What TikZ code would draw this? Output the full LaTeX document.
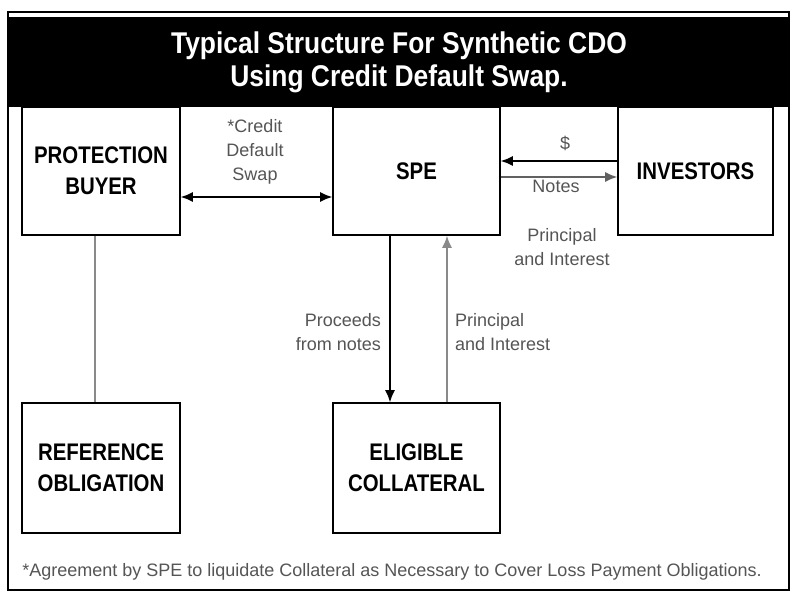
\documentclass[tikz,border=0pt]{standalone}
\usepackage{fontspec}
\setmainfont{Liberation Sans}
\newfontfamily\boxfont{Liberation Sans Bold}[FakeStretch=0.85]
\newfontfamily\titlefont{Liberation Sans Bold}[FakeStretch=0.88]
\newfontfamily\labfont{Liberation Sans}
\newfontfamily\notefont{Liberation Sans}
\usetikzlibrary{arrows.meta}
\definecolor{labgray}{HTML}{555555}
\definecolor{linegray}{HTML}{8A8A8A}
\tikzset{
  entity/.style={draw=black, line width=1.6pt, fill=white, align=center, inner sep=0pt,
    font=\boxfont\fontsize{24}{31}\selectfont},
  lab/.style={text=labgray, align=center, inner sep=0pt, font=\labfont\fontsize{18}{24}\selectfont},
  flow/.style={line width=1.4pt, -{Latex[length=12pt,width=10pt]}},
  flow2/.style={line width=1.4pt, {Latex[length=12pt,width=10pt]}-{Latex[length=12pt,width=10pt]}},
}
\begin{document}
\begin{tikzpicture}[x=1pt,y=-1pt]
\useasboundingbox (0,0) rectangle (800,601);
\fill[white] (0,0) rectangle (800,601);
% frame
\draw[line width=1.6pt] (8,12) rectangle (789,590);
% boxes
\node[entity, minimum width=158pt, minimum height=128pt] (buyer) at (101,171) {PROTECTION\\BUYER};
\node[entity, minimum width=167pt, minimum height=128pt] (spe) at (416.5,171) {SPE};
\node[entity, minimum width=155pt, minimum height=128pt] (inv) at (695.5,171) {INVESTORS};
\node[entity, minimum width=158pt, minimum height=130pt] (ref) at (101,468) {REFERENCE\\OBLIGATION};
\node[entity, minimum width=167pt, minimum height=130pt] (coll) at (416.5,468) {ELIGIBLE\\COLLATERAL};
% title band over box tops
\fill[black] (8,17) rectangle (789,107);
\node[text=white, align=center, inner sep=0pt, font=\titlefont\fontsize{30}{33}\selectfont] (title) at (399,62) {Typical Structure For Synthetic CDO\\Using Credit Default Swap.};
% connectors
\draw[flow2] (buyer.east |- 0,197) -- (spe.west |- 0,197);
\draw[linegray, line width=2pt] (buyer.south -| 95,0) -- (ref.north -| 95,0);
\draw[flow] (inv.west |- 0,161) -- (spe.east |- 0,161);
\draw[flow, draw=linegray!70!black] (spe.east |- 0,177) -- (inv.west |- 0,177);
\draw[flow] (spe.south -| 390,0) -- (coll.north -| 390,0);
\draw[flow, draw=linegray] (coll.north -| 447,0) -- (spe.south -| 447,0);
% labels
\node[lab] (cds) at (255,152) {*Credit\\Default\\Swap};
\node[lab] (dollar) at (565,143) {\$};
\node[lab] (notes) at (556,186) {Notes};
\node[lab] (pi1) at (562,247) {Principal\\and Interest};
\node[lab, align=right, anchor=east] (proc) at (381,332) {Proceeds\\from notes};
\node[lab, align=left, anchor=west] (pi2) at (455,332) {Principal\\and Interest};
\node[text=labgray, inner sep=0pt, font=\notefont\fontsize{18}{20}\selectfont] (note) at (392,572) {*Agreement by SPE to liquidate Collateral as Necessary to Cover Loss Payment Obligations.};
\end{tikzpicture}
\end{document}
